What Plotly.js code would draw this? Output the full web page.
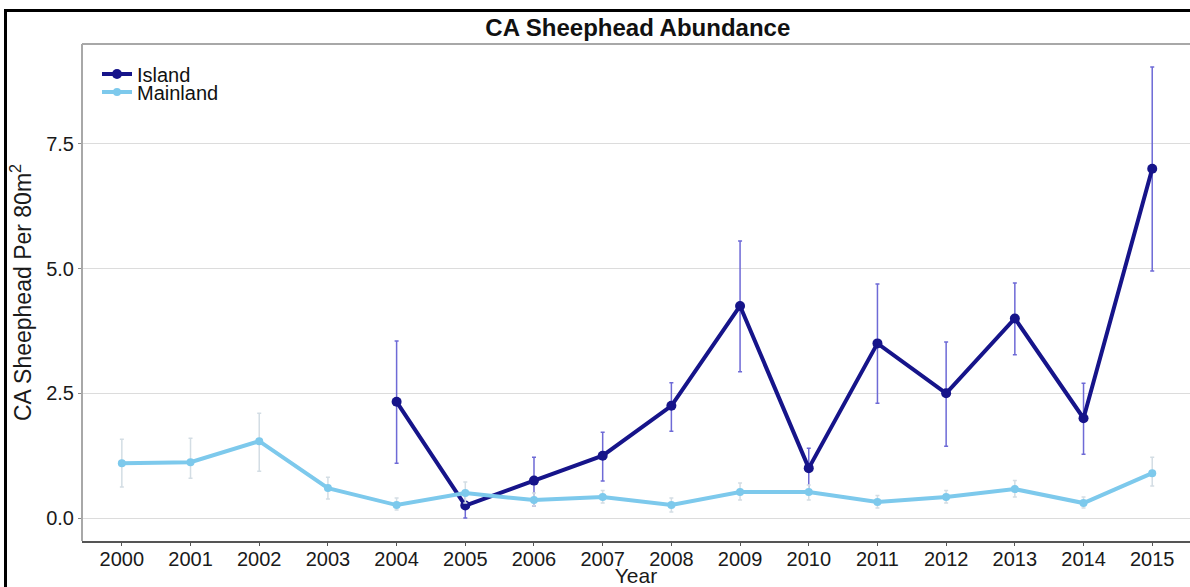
<!DOCTYPE html>
<html>
<head>
<meta charset="utf-8">
<script src="https://cdn.plot.ly/plotly-3.0.1.min.js"></script>
<style>
  html, body { margin: 0; padding: 0; background: #fff; }
  #chart { width: 1190px; height: 587px; }
  #frame { position: absolute; left: 4px; top: 9px; width: 1200px; height: 600px;
           border-left: 3px solid #000; border-top: 3px solid #000; pointer-events: none; }
</style>
</head>
<body>
<div id="chart"></div>
<div id="frame"></div>
<script>
// Data
const mainlandYears = [2000,2001,2002,2003,2004,2005,2006,2007,2008,2009,2010,2011,2012,2013,2014,2015];
const mainlandMean  = [1.10,1.12,1.54,0.60,0.26,0.50,0.36,0.42,0.26,0.52,0.52,0.32,0.42,0.58,0.30,0.90];
const mainlandUpper = [1.58,1.60,2.10,0.82,0.40,0.72,0.50,0.55,0.40,0.70,0.66,0.45,0.55,0.75,0.42,1.22];
const mainlandLower = [0.62,0.80,0.94,0.38,0.16,0.30,0.24,0.30,0.12,0.36,0.36,0.20,0.30,0.42,0.20,0.64];

const islandYears = [2004,2005,2006,2007,2008,2009,2010,2011,2012,2013,2014,2015];
const islandMean  = [2.33,0.25,0.75,1.25,2.25,4.25,1.00,3.50,2.50,4.00,2.00,7.00];
const islandUpper = [3.55,0.50,1.22,1.72,2.71,5.55,1.40,4.69,3.53,4.71,2.70,9.04];
const islandLower = [1.10,0.00,0.24,0.74,1.74,2.93,0.56,2.30,1.44,3.27,1.28,4.95];

const yTicks = [0, 2.5, 5, 7.5];
const yTickText = ['0.0','2.5','5.0','7.5'];

const plus = (u, m) => u.map((v, i) => v - m[i]);
const minus = (l, m) => m.map((v, i) => v - l[i]);

const island = {
  x: islandYears, y: islandMean, name: 'Island', type: 'scatter', mode: 'lines+markers',
  legend: 'legend',
  line: { color: '#16148a', width: 4 },
  marker: { color: '#16148a', size: 10 },
  error_y: { type: 'data', symmetric: false,
             array: plus(islandUpper, islandMean), arrayminus: minus(islandLower, islandMean),
             color: '#6e6ad6', thickness: 1.5, width: 2 }
};
const mainland = {
  x: mainlandYears, y: mainlandMean, name: 'Mainland', type: 'scatter', mode: 'lines+markers',
  legend: 'legend2',
  line: { color: '#7dc9ec', width: 4 },
  marker: { color: '#7dc9ec', size: 8 },
  error_y: { type: 'data', symmetric: false,
             array: plus(mainlandUpper, mainlandMean), arrayminus: minus(mainlandLower, mainlandMean),
             color: '#d3dde4', thickness: 1.5, width: 2 }
};

const legendBase = { xanchor: 'left', yanchor: 'middle', bgcolor: 'rgba(0,0,0,0)',
                     font: { size: 20, color: '#111' }, itemwidth: 30 };
const pxX = px => (px - 82) / 1108;
const pxY = px => (541 - px) / 497;

const layout = {
  width: 1190, height: 587,
  margin: { l: 82, r: 0, t: 44, b: 46 },
  paper_bgcolor: '#fff', plot_bgcolor: '#fff',
  font: { family: 'Liberation Sans, Arial, sans-serif', color: '#1a1a1a' },
  title: { text: '<b>CA Sheephead Abundance</b>', font: { size: 24, color: '#111' },
           x: 0.536, xanchor: 'center', y: 1 - 28/587, yref: 'container', yanchor: 'middle' },
  showlegend: true,
  legend: Object.assign({}, legendBase, { x: pxX(97), y: pxY(74) }),
  legend2: Object.assign({}, legendBase, { x: pxX(97), y: pxY(92) }),
  xaxis: {
    range: [1999.42, 2015.55], tickmode: 'array', tickvals: mainlandYears,
    ticktext: mainlandYears.map(String),
    showgrid: false, zeroline: false, showline: true, linecolor: '#555', linewidth: 1.5,
    ticks: 'outside', ticklen: 3, tickcolor: '#555', tickfont: { size: 20, color: '#1a1a1a' },
    ticklabelstandoff: -4,
    title: { text: 'Year', font: { size: 21, color: '#1a1a1a' }, standoff: 0 }
  },
  yaxis: {
    range: [-0.46, 9.5], tickmode: 'array', tickvals: yTicks, ticktext: yTickText,
    showgrid: true, gridcolor: '#dcdcdc', gridwidth: 1, zeroline: false,
    showline: false, ticks: 'outside', ticklen: 3, tickcolor: '#888',
    tickfont: { size: 20, color: '#1a1a1a' },
    title: { text: 'CA Sheephead Per 80m<sup>2</sup>', font: { size: 23, color: '#1a1a1a' }, standoff: 8 }
  },
  shapes: [
    { type: 'line', xref: 'paper', yref: 'paper', x0: 0, x1: 1, y0: 1, y1: 1,
      line: { color: '#a8a8a8', width: 2 } },
    { type: 'line', xref: 'paper', yref: 'paper', x0: 0, x1: 0, y0: 0, y1: 1,
      line: { color: '#a8a8a8', width: 2 } }
  ]
};

Plotly.newPlot('chart', [island, mainland], layout, { displayModeBar: false, staticPlot: true });
</script>
</body>
</html>
